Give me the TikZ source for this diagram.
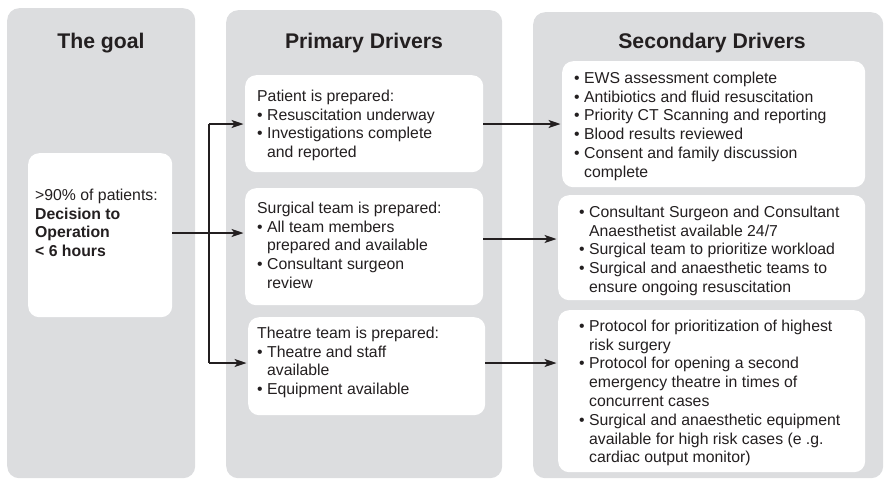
\documentclass[tikz,border=0pt]{standalone}
\usepackage{fontspec}
\setmainfont{Liberation Sans}
\usetikzlibrary{arrows.meta}
\definecolor{panelgray}{HTML}{DCDDDF}
\definecolor{ink}{HTML}{231F20}
% bullet, hanging indent of continuation lines, and a fixed first-line height
\newcommand\bu{\textbullet\ }
\newcommand\hang{\hphantom{\textbullet\ }}
\newcommand\firstline{\rule{0pt}{12pt}}
\begin{document}
\begin{tikzpicture}[x=1pt,y=-1pt,
  panel/.style={fill=panelgray, rounded corners=12pt, draw=none, inner sep=0pt, anchor=north west},
  card/.style={fill=white, rounded corners=11pt, draw=none, inner sep=0pt, anchor=north west},
  heading/.style={font=\fontsize{21.2}{24}\selectfont\bfseries, text=ink, anchor=base, inner sep=0pt},
  body/.style={font=\fontsize{15.8}{18.8}\selectfont, text=ink, anchor=north west, inner sep=0pt, align=left},
  link/.style={draw=ink, line width=1.2pt, -{Stealth[length=12pt,width=8pt,inset=3pt]}, shorten >=1.5pt},
  trunk/.style={draw=ink, line width=1.2pt},
]
\useasboundingbox (0,0) rectangle (887,480);

% columns
\node[panel, minimum width=188pt, minimum height=470pt] (goalcol) at (7,8) {};
\node[panel, minimum width=276pt, minimum height=468pt] (primcol) at (226,10) {};
\node[panel, minimum width=350pt, minimum height=466pt] (seccol) at (533,12) {};

\node[heading] (goalhead) at (101,48) {The goal};
\node[heading] (primhead) at (364,48) {Primary Drivers};
\node[heading] (sechead) at (712,48) {Secondary Drivers};

% cards
\node[card, minimum width=144pt, minimum height=164pt] (goal) at (28,153) {};
\node[card, minimum width=238pt, minimum height=97pt] (p1) at (245,75) {};
\node[card, minimum width=238pt, minimum height=117pt] (p2) at (245,188) {};
\node[card, minimum width=237pt, minimum height=98pt] (p3) at (248,317) {};
\node[card, minimum width=303pt, minimum height=126pt] (s1) at (562,61) {};
\node[card, minimum width=307pt, minimum height=105pt] (s2) at (558,195) {};
\node[card, minimum width=307pt, minimum height=162pt] (s3) at (558,310) {};

% card texts (placed by the first baseline minus 12pt)
\node[body] (goaltext) at (35,188) {\firstline>90\% of patients:\\
  \textbf{Decision to}\\ \textbf{Operation}\\ \textbf{< 6 hours}};

\node[body] (p1text) at (257,89) {\firstline Patient is prepared:\\
  \bu Resuscitation underway\\ \bu Investigations complete\\ \hang and reported};
\node[body] (p2text) at (257,201) {\firstline Surgical team is prepared:\\
  \bu All team members\\ \hang prepared and available\\ \bu Consultant surgeon\\ \hang review};
\node[body] (p3text) at (257,326) {\firstline Theatre team is prepared:\\
  \bu Theatre and staff\\ \hang available\\ \bu Equipment available};

\node[body] (s1text) at (574,71) {\firstline\bu EWS assessment complete\\
  \bu Antibiotics and fluid resuscitation\\ \bu Priority CT Scanning and reporting\\
  \bu Blood results reviewed\\ \bu Consent and family discussion\\ \hang complete};
\node[body] (s2text) at (579,205) {\firstline\bu Consultant Surgeon and Consultant\\
  \hang Anaesthetist available 24/7\\ \bu Surgical team to prioritize workload\\
  \bu Surgical and anaesthetic teams to\\ \hang ensure ongoing resuscitation};
\node[body] (s3text) at (579,319) {\firstline\bu Protocol for prioritization of highest\\
  \hang risk surgery\\ \bu Protocol for opening a second\\
  \hang emergency theatre in times of\\ \hang concurrent cases\\
  \bu Surgical and anaesthetic equipment\\ \hang available for high risk cases (e .g.\\
  \hang cardiac output monitor)};

% connectors
\coordinate (fork) at (209,233);
\coordinate (upper) at (209,124);
\coordinate (lower) at (209,363);
\coordinate (mid) at (0,239);

\draw[trunk] (upper) -- (lower);
\draw[link] (goal.east |- fork) -- (p2.west |- fork);
\draw[link] (upper) -- (p1.west |- upper);
\draw[link] (lower) -- (p3.west |- lower);

\draw[link] (p1.east |- upper) -- (s1.west |- upper);
\draw[link] (p2.east |- mid) -- (s2.west |- mid);
\draw[link] (p3.east |- lower) -- (s3.west |- lower);
\end{tikzpicture}
\end{document}
